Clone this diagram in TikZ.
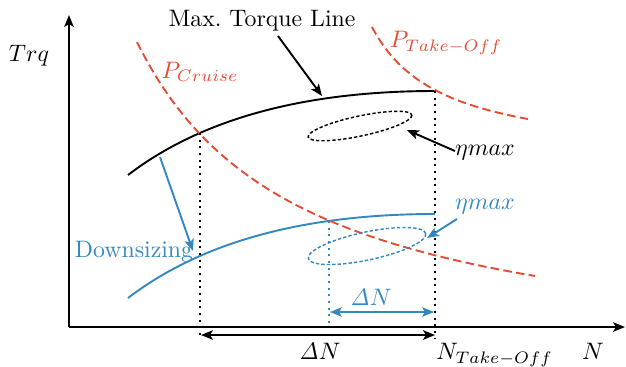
\documentclass[tikz,border=0pt]{standalone}
\usetikzlibrary{arrows.meta}
\definecolor{cred}{RGB}{228,76,52}
\definecolor{cblue}{RGB}{52,136,192}
\tikzset{
  axisline/.style={thick,-{Stealth[length=5pt,width=4pt,inset=1.2pt]}},
  curve/.style={thick},
  power/.style={cred,thick,dash pattern=on 3.6pt off 1.8pt},
  effell/.style={semithick,dash pattern=on 1.4pt off 0.9pt},
  guide/.style={thick,dotted},
  ptr/.style={thick,-{Stealth[length=5pt,width=4pt,inset=1.2pt]}},
  dptr/.style={thick,{Stealth[length=5pt,width=4pt,inset=1.2pt]}-{Stealth[length=5pt,width=4pt,inset=1.2pt]}},
  lbl/.style={inner sep=0pt}
}
\begin{document}
\begin{tikzpicture}[x=0.42pt,y=-0.42pt]
\useasboundingbox (0,0) rectangle (626,366);
% axes
\coordinate (O) at (69,327);
\coordinate (ytip) at (69,15);
\coordinate (xtip) at (625,327);
\draw[axisline] (O) -- (ytip);
\draw[axisline] (O) -- (xtip);
\node[lbl] (trq) at (29,56) {$Trq$};
\node[lbl] (nlab) at (593,351) {$N$};
% max torque curves
\draw[curve] (128,175) .. controls (201.3,119) and (303.7,91) .. (435,91);
\draw[curve,cblue] (128,298) .. controls (201.3,242) and (303.7,214) .. (435,214);
% power hyperbolas
\draw[power] plot[domain=137:535,samples=80] (\x,{371.6-535.92/((\x+25.6)/100)});
\draw[power] plot[domain=372:528,samples=50] (\x,{160.7-94.53/((\x-301.3)/100)});
\node[lbl,cred] (pcr) at (200,72) {$P_{Cruise}$};
\node[lbl,cred] (pto) at (446,43) {$P_{Take-Off}$};
% efficiency islands
\draw[effell,rotate around={12:(360,126)}] (360,126) ellipse [x radius=53, y radius=10];
\draw[effell,cblue,rotate around={12:(367,246)}] (367,246) ellipse [x radius=60, y radius=14];
% guide lines
\coordinate (g1t) at (200,133);
\coordinate (g1b) at (200,338);
\coordinate (g2t) at (435,91);
\coordinate (g2b) at (435,338);
\coordinate (g3t) at (329,221);
\coordinate (g3b) at (329,327);
\draw[guide] (g1t) -- (g1b);
\draw[guide] (g2t) -- (g2b);
\draw[cblue,thick,dotted] (g3t) -- (g3b);
% delta N arrows
\coordinate (d1a) at (201,335);
\coordinate (d1b) at (435,335);
\draw[dptr] (d1a) -- (d1b);
\node[lbl] (dn1) at (320,351) {$\mathit{\Delta} N$};
\coordinate (d2a) at (330,312);
\coordinate (d2b) at (434,312);
\draw[dptr,cblue] (d2a) -- (d2b);
\node[lbl,cblue] (dn2) at (371,297) {$\mathit{\Delta} N$};
\node[lbl,anchor=north west] (nto) at (436,343) {$N_{Take-Off}$};
% labels and pointers
\node[lbl] (mtl) at (262,21) {Max.\ Torque Line};
\coordinate (mtla) at (278,36);
\coordinate (mtlb) at (322,96);
\draw[ptr] (mtla) -- (mtlb);
\node[lbl] (eta1) at (485,153) {$\eta max$};
\coordinate (e1a) at (455,151);
\coordinate (e1b) at (407,130);
\draw[ptr] (e1a) -- (e1b);
\node[lbl,cblue] (eta2) at (485,207) {$\eta max$};
\coordinate (e2a) at (457,219);
\coordinate (e2b) at (427,238);
\draw[ptr,cblue] (e2a) -- (e2b);
\node[lbl,cblue] (ds) at (134,252) {Downsizing};
\coordinate (dsa) at (160,157);
\coordinate (dsb) at (193,251);
\draw[ptr,cblue] (dsa) -- (dsb);
\end{tikzpicture}
\end{document}
